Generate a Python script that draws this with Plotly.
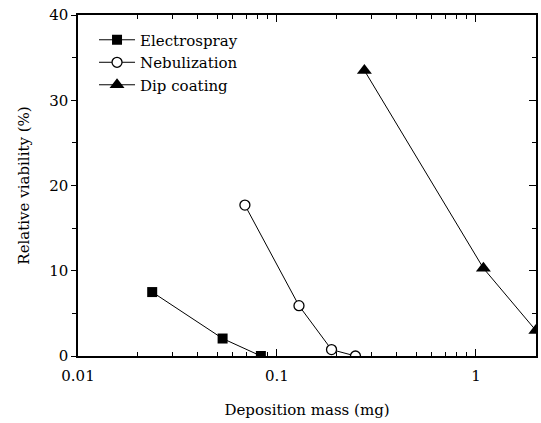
import plotly.graph_objects as go
import math

electro_x = [0.0236, 0.0533, 0.083]
electro_y = [7.5, 2.05, 0.0]
nebul_x = [0.069, 0.129, 0.188, 0.248]
nebul_y = [17.7, 5.9, 0.75, 0.0]
dip_x = [0.275, 1.09, 2.0]
dip_y = [33.5, 10.3, 3.0]

FONT = "DejaVu Serif"

fig = go.Figure()
fig.add_trace(go.Scatter(x=electro_x, y=electro_y, mode="lines+markers", name="Electrospray",
                         line=dict(color="black", width=1),
                         marker=dict(symbol="square", size=10, color="black")))
fig.add_trace(go.Scatter(x=nebul_x, y=nebul_y, mode="lines+markers", name="Nebulization",
                         line=dict(color="black", width=1),
                         marker=dict(symbol="circle", size=10, color="white",
                                     line=dict(color="black", width=1.3))))
fig.add_trace(go.Scatter(x=dip_x, y=dip_y, mode="lines+markers", name="Dip coating",
                         line=dict(color="black", width=1),
                         marker=dict(symbol="triangle-up", size=13, color="black")))
fig.add_trace(go.Scatter(x=[0.01], y=[0], yaxis="y2", mode="markers",
                         marker=dict(opacity=0), showlegend=False, hoverinfo="skip"))

fig.update_layout(
    width=541, height=423,
    margin=dict(l=78, r=5, t=15, b=67),
    paper_bgcolor="white", plot_bgcolor="white",
    font=dict(family=FONT, size=15, color="black"),
    showlegend=True,
    legend=dict(x=0.035, y=0.975, xanchor="left", yanchor="top",
                bgcolor="rgba(0,0,0,0)", font=dict(family=FONT, size=15),
                itemwidth=36, tracegroupgap=0),
    xaxis=dict(type="log", range=[-2, math.log10(2) + 0.0008], showgrid=False, zeroline=False,
               automargin=False,
               showline=True, linecolor="black", linewidth=1.5, mirror="ticks",
               ticks="inside", ticklen=7, tickwidth=1.2, tickcolor="black",
               tickvals=[0.01, 0.1, 1], ticktext=["0.01", "0.1", "1"],
               ticklabelstandoff=5,
               minor=dict(ticks="inside", ticklen=4, tickwidth=1, tickcolor="black",
                          tickvals=[0.02, 0.03, 0.04, 0.05, 0.06, 0.07, 0.08, 0.09,
                                    0.2, 0.3, 0.4, 0.5, 0.6, 0.7, 0.8, 0.9, 2]),
               title=dict(text="Deposition mass (mg)", standoff=21,
                          font=dict(family=FONT, size=15)),
               tickfont=dict(family=FONT, size=15)),
    yaxis=dict(range=[0, 40], showgrid=False, zeroline=False, automargin=False,
               showline=True, linecolor="black", linewidth=1.5,
               ticks="outside", ticklen=5, tickwidth=1.2, tickcolor="black",
               tickvals=[0, 10, 20, 30, 40],
               minor=dict(ticks="outside", ticklen=4, tickwidth=1, tickcolor="black",
                          tickvals=[5, 15, 25, 35]),
               title=dict(text="Relative viability (%)", standoff=16,
                          font=dict(family=FONT, size=15)),
               tickfont=dict(family=FONT, size=15)),
    yaxis2=dict(range=[0, 40], overlaying="y", side="right", showgrid=False,
                zeroline=False, showline=True, linecolor="black", linewidth=1.5,
                automargin=False,
                ticks="inside", ticklen=7, tickwidth=1.2, tickcolor="black",
                tickvals=[0, 10, 20, 30, 40], showticklabels=False,
                minor=dict(ticks="inside", ticklen=4, tickwidth=1, tickcolor="black",
                           tickvals=[5, 15, 25, 35])),
)

fig.write_html("out.html", config={"displayModeBar": False},
               post_script="document.body.style.margin='0';document.body.style.overflow='hidden';")
